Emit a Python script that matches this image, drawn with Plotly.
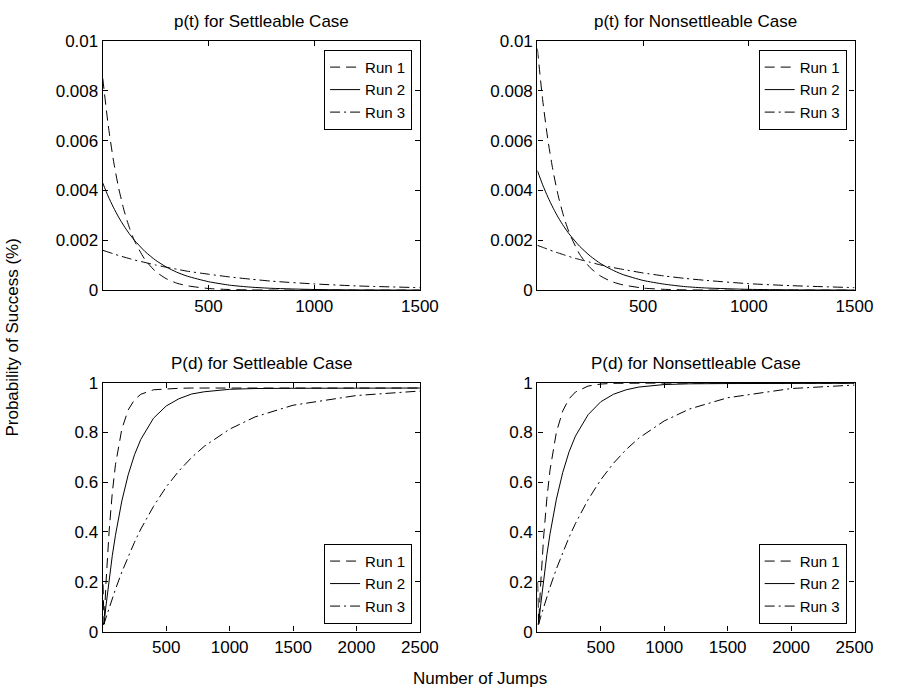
import plotly.graph_objects as go

# ---- p(t): probability of success per jump ----
t_jumps = [0, 25, 50, 75, 100, 125, 150, 200, 250, 300, 350, 400,
           500, 600, 700, 800, 1000, 1200, 1500]

p_settle_run1 = [0.00850, 0.00667, 0.00523, 0.00410, 0.00322, 0.00253, 0.00198,
                 0.00122, 0.00075, 0.00046, 0.00028, 0.000175, 0.000066,
                 0.000025, 0.0000095, 0.0000036, 0.0000005, 0.0, 0.0]
p_settle_run2 = [0.00430, 0.00378, 0.00333, 0.00293, 0.00258, 0.00227, 0.00200,
                 0.00155, 0.00120, 0.00093, 0.00072, 0.00056, 0.00034,
                 0.00020, 0.00012, 0.000073, 0.000026, 0.0000094, 0.000002]
p_settle_run3 = [0.00160, 0.00153, 0.00146, 0.00139, 0.00133, 0.00127, 0.00121,
                 0.00111, 0.00101, 0.00092, 0.00084, 0.00076, 0.00064,
                 0.00053, 0.00044, 0.00036, 0.00025, 0.00017, 0.00010]

p_nonsettle_run1 = [0.00970, 0.00764, 0.00602, 0.00475, 0.00374, 0.00295, 0.00232,
                    0.00144, 0.00090, 0.00056, 0.00035, 0.00022, 0.000083,
                    0.000032, 0.0000123, 0.0000047, 0.0000007, 0.0, 0.0]
p_nonsettle_run2 = [0.00480, 0.00423, 0.00373, 0.00329, 0.00290, 0.00256, 0.00226,
                    0.00176, 0.00137, 0.00106, 0.00083, 0.00064, 0.00039,
                    0.00024, 0.00014, 0.000086, 0.000032, 0.000012, 0.0000025]
p_nonsettle_run3 = [0.00180, 0.00172, 0.00164, 0.00156, 0.00149, 0.00142, 0.00135,
                    0.00123, 0.00112, 0.00101, 0.00092, 0.00084, 0.00069,
                    0.00057, 0.00047, 0.00039, 0.00026, 0.00018, 0.00010]

# ---- P(d): cumulative probability of success ----
d_jumps = [2, 10, 25, 50, 75, 100, 150, 200, 250, 300, 400, 500, 600,
           700, 800, 1000, 1200, 1500, 2000, 2500]

P_settle_run1 = [0.19, 0.03, 0.192, 0.403, 0.557, 0.670, 0.813, 0.890, 0.931, 0.953,
                 0.971, 0.975, 0.977, 0.978, 0.978, 0.978, 0.978, 0.978, 0.978, 0.978]
P_settle_run2 = [0.03, 0.03, 0.102, 0.210, 0.305, 0.387, 0.524, 0.629, 0.710, 0.772,
                 0.857, 0.906, 0.935, 0.954, 0.963, 0.973, 0.976, 0.977, 0.978, 0.978]
P_settle_run3 = [0.03, 0.03, 0.055, 0.095, 0.134, 0.170, 0.239, 0.302, 0.359, 0.412,
                 0.503, 0.581, 0.645, 0.699, 0.744, 0.813, 0.862, 0.909, 0.948, 0.966]

P_nonsettle_run1 = [0.20, 0.03, 0.182, 0.384, 0.535, 0.650, 0.801, 0.886, 0.935, 0.962,
                    0.986, 0.994, 0.997, 0.998, 0.998, 0.998, 0.998, 0.998, 0.998, 0.998]
P_nonsettle_run2 = [0.03, 0.03, 0.103, 0.213, 0.309, 0.393, 0.532, 0.639, 0.722, 0.785,
                    0.871, 0.923, 0.953, 0.971, 0.982, 0.992, 0.995, 0.996, 0.997, 0.997]
P_nonsettle_run3 = [0.03, 0.03, 0.057, 0.099, 0.140, 0.179, 0.252, 0.319, 0.379, 0.434,
                    0.530, 0.610, 0.676, 0.731, 0.777, 0.846, 0.894, 0.939, 0.976, 0.990]

run_names = ["Run 1", "Run 2", "Run 3"]
p_ticks = [0, 0.002, 0.004, 0.006, 0.008, 0.01]
p_tick_text = ["0", "0.002", "0.004", "0.006", "0.008", "0.01"]
P_ticks = [0, 0.2, 0.4, 0.6, 0.8, 1]
P_tick_text = ["0", "0.2", "0.4", "0.6", "0.8", "1"]
t_ticks = [500, 1000, 1500]
d_ticks = [500, 1000, 1500, 2000, 2500]

titles = ["p(t) for Settleable Case", "p(t) for Nonsettleable Case",
          "P(d) for Settleable Case", "P(d) for Nonsettleable Case"]

FONT = "Liberation Sans, Arial, Helvetica, sans-serif"
W, H = 897, 699
dashes = ["10px,6px", "solid", "10px,4px,2px,4px"]

# panel frames in pixels: (left, right, top, bottom)
frames = [(105, 429, 33, 289), (549, 873, 33, 289),
          (105, 429, 384, 640), (549, 873, 384, 640)]

panels = [
    (t_jumps, [p_settle_run1, p_settle_run2, p_settle_run3], "spline"),
    (t_jumps, [p_nonsettle_run1, p_nonsettle_run2, p_nonsettle_run3], "spline"),
    (d_jumps, [P_settle_run1, P_settle_run2, P_settle_run3], "linear"),
    (d_jumps, [P_nonsettle_run1, P_nonsettle_run2, P_nonsettle_run3], "linear"),
]

fig = go.Figure()
for k, (xs, series, shape) in enumerate(panels):
    sfx = "" if k == 0 else str(k + 1)
    for j, ys in enumerate(series):
        fig.add_trace(go.Scatter(
            x=xs, y=ys, mode="lines", name=run_names[j],
            line=dict(color="black", width=1, dash=dashes[j], shape=shape,
                      smoothing=0.6 if shape == "spline" else None),
            xaxis="x" + sfx, yaxis="y" + sfx,
            legend="legend" + sfx,
        ))

layout = dict(
    width=W, height=H,
    margin=dict(l=0, r=0, t=0, b=0),
    paper_bgcolor="white", plot_bgcolor="white",
    font=dict(family=FONT, size=17, color="black"),
    annotations=[],
)

for k, (l, r, t, b) in enumerate(frames):
    sfx = "" if k == 0 else str(k + 1)
    top_row = k < 2
    xdom = [l / W, r / W]
    ydom = [1 - b / H, 1 - t / H]
    layout["xaxis" + sfx] = dict(
        domain=xdom, anchor="y" + sfx,
        range=[0, 1500] if top_row else [0, 2500],
        tickmode="array", tickvals=t_ticks if top_row else d_ticks,
        ticks="inside", ticklen=5, tickcolor="black", tickwidth=1,
        showline=True, linecolor="black", linewidth=1.3, mirror="allticks",
        showgrid=False, zeroline=False,
        tickfont=dict(family=FONT, size=17, color="black"),
    )
    layout["yaxis" + sfx] = dict(
        domain=ydom, anchor="x" + sfx,
        range=[0, 0.01] if top_row else [0, 1],
        tickmode="array",
        tickvals=p_ticks if top_row else P_ticks,
        ticktext=p_tick_text if top_row else P_tick_text,
        ticks="inside", ticklen=5, tickcolor="black", tickwidth=1,
        showline=True, linecolor="black", linewidth=1.3, mirror="allticks",
        showgrid=False, zeroline=False,
        tickfont=dict(family=FONT, size=17, color="black"),
    )
    layout["legend" + sfx] = dict(
        x=(r - 8) / W, xanchor="right",
        y=(1 - (t + 9) / H) if top_row else (1 - (b - 8) / H),
        yanchor="top" if top_row else "bottom",
        bgcolor="white", bordercolor="black", borderwidth=1,
        font=dict(family=FONT, size=15, color="black"),
        tracegroupgap=0, itemwidth=30,
    )
    layout["annotations"].append(dict(
        text=titles[k], xref="paper", yref="paper",
        x=(l + r) / 2 / W, y=1 - (t - 20) / H,
        xanchor="center", yanchor="middle", showarrow=False,
        font=dict(family=FONT, size=17, color="black"),
    ))

layout["annotations"].append(dict(
    text="Number of Jumps", xref="paper", yref="paper",
    x=490 / W, y=1 - 688 / H, xanchor="center", yanchor="middle",
    showarrow=False, font=dict(family=FONT, size=17, color="black"),
))
layout["annotations"].append(dict(
    text="Probability of Success (%)", xref="paper", yref="paper",
    x=13 / W, y=1 - 338 / H, xanchor="center", yanchor="middle",
    textangle=-90, showarrow=False,
    font=dict(family=FONT, size=17, color="black"),
))

fig.update_layout(**layout)
fig.write_html("out.html")
